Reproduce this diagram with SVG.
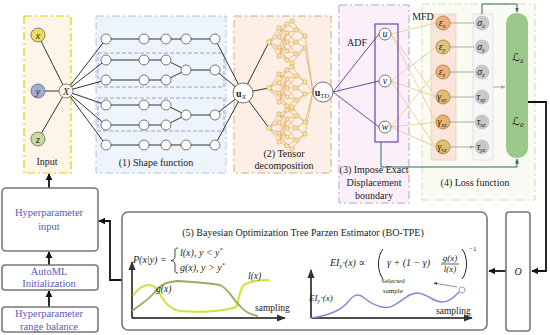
<svg xmlns="http://www.w3.org/2000/svg" xmlns:xlink="http://www.w3.org/1999/xlink" width="550" height="335" viewBox="0 0 550 335">
<style>
text{font-family:"Liberation Serif","Times New Roman","DejaVu Serif",serif;fill:#222}
.lbl{font-size:10px;text-anchor:middle}
.it{font-style:italic}
.blue{fill:#5a5ab8;font-size:10.5px;text-anchor:middle}
.sn{fill:#fff;stroke:#555;stroke-width:0.8}
.sl{stroke:#333;stroke-width:1;fill:none}
.tl{stroke:#d4a050;stroke-width:0.6;fill:none}
.tn{fill:#f6e6a0;stroke:#c8963c;stroke-width:0.5}
.cross{stroke:#e6d6a0;stroke-width:1;fill:none}
.strain{stroke:#a08040;stroke-width:0.8}
.stress{fill:#c8c8c8;stroke:#bbb;stroke-width:0.6}
.garr{stroke:#aaa;stroke-width:1;fill:none}
.box{fill:#fff;stroke:#777;stroke-width:1.6}
.blk{stroke:#111;stroke-width:1.8;fill:none}
.math{font-family:"DejaVu Sans","Noto Sans",sans-serif;font-style:italic}
</style>
<defs>
<marker id="ab" viewBox="0 0 10 10" refX="9" refY="5" markerWidth="4" markerHeight="4" orient="auto"><path d="M0,0L10,5L0,10z" fill="#111"/></marker>
<marker id="ag" viewBox="0 0 10 10" refX="9" refY="5" markerWidth="5" markerHeight="5" orient="auto"><path d="M0,1L10,5L0,9z" fill="#aaa"/></marker>
<marker id="agr" viewBox="0 0 10 10" refX="9" refY="5" markerWidth="5" markerHeight="5" orient="auto"><path d="M0,1L10,5L0,9z" fill="#2f7050"/></marker>
<marker id="ak" viewBox="0 0 10 10" refX="9" refY="5" markerWidth="6" markerHeight="6" orient="auto"><path d="M0,1L10,5L0,9z" fill="#333"/></marker>
<g id="tg">
<path class="tl" d="M269,0L279,-14M269,0L279,-5M269,0L279,5M269,0L279,14M269,0L292,-21M269,0L292,21M296,-12L305,-6M296,0L305,-6M296,0L305,6M296,12L305,6M292,-21L305,-6M292,21L305,6"/>
<path d="M279,-14L287,-18M279,-14L287,-9M279,-14L287,0M279,-5L287,-18M279,-5L287,0M279,-5L287,9M279,5L287,-9M279,5L287,9M279,5L287,18M279,14L287,0M279,14L287,18M279,14L287,-9M287,-18L296,-12M287,-9L296,-12M287,-9L296,0M287,0L296,0M287,9L296,0M287,9L296,12M287,18L296,12M287,0L296,-12M287,0L296,12" stroke="#e8862e" stroke-width="0.5" fill="none"/>
<circle class="tn" cx="269" cy="0" r="2.4"/>
<circle class="tn" cx="279" cy="-14" r="2.2"/><circle class="tn" cx="279" cy="-5" r="2.2"/><circle class="tn" cx="279" cy="5" r="2.2"/><circle class="tn" cx="279" cy="14" r="2.2"/>
<circle class="tn" cx="287" cy="-18" r="2.2"/><circle class="tn" cx="287" cy="-9" r="2.2"/><circle class="tn" cx="287" cy="0" r="2.2"/><circle class="tn" cx="287" cy="9" r="2.2"/><circle class="tn" cx="287" cy="18" r="2.2"/>
<circle class="tn" cx="296" cy="-12" r="2.2"/><circle class="tn" cx="296" cy="0" r="2.2"/><circle class="tn" cx="296" cy="12" r="2.2"/>
<circle class="tn" cx="305" cy="-6" r="2.2"/><circle class="tn" cx="305" cy="6" r="2.2"/>
<circle class="tn" cx="292" cy="-21" r="2.2"/><circle class="tn" cx="292" cy="21" r="2.2"/>
</g>
</defs>

<!-- region backgrounds -->
<g id="input-region">
<rect x="24" y="16" width="47" height="157" fill="#fdf5e8" stroke="#d4d400" stroke-width="1.2" stroke-dasharray="8,3,2,3"/>
<text class="lbl" x="47" y="165">Input</text>
</g>
<g id="shape-region">
<rect x="96" y="16" width="130" height="157" fill="#eef4fc" stroke="#b0c4e4" stroke-width="1" stroke-dasharray="8,3,2,3"/>
<rect x="98" y="53" width="126" height="34" fill="none" stroke="#8890c8" stroke-width="0.8" stroke-dasharray="4,2"/>
<rect x="98" y="98" width="126" height="33" fill="none" stroke="#8890c8" stroke-width="0.8" stroke-dasharray="4,2"/>
<text class="lbl" x="156" y="166">(1) Shape function</text>
</g>
<g id="tensor-region">
<rect x="234" y="16" width="97" height="157" fill="#fdeee6" stroke="#c8b07c" stroke-width="1" stroke-dasharray="8,3,2,3"/>
<text class="lbl" x="284" y="157">(2) Tensor</text>
<text class="lbl" x="284" y="169">decomposition</text>
</g>
<g id="adf-region">
<rect x="339" y="5" width="70" height="198" fill="#fbf0fa" stroke="#b8a0d0" stroke-width="1" stroke-dasharray="8,3,2,3"/>
<text class="lbl" x="374" y="173">(3) Impose Exact</text>
<text class="lbl" x="374" y="186">Displacement</text>
<text class="lbl" x="374" y="199">boundary</text>
<text class="lbl" x="357" y="46">ADF</text>
</g>
<g id="loss-region">
<rect x="422" y="4" width="113" height="196" fill="#fafbf4" stroke="#d4dca4" stroke-width="1" stroke-dasharray="8,3,2,3"/>
<rect x="431" y="14" width="25" height="146" fill="#fbe4dc" stroke="#e8d8a8" stroke-width="0.8"/>
<rect x="473" y="14" width="20" height="146" fill="#f6f6f6" stroke="#ddd" stroke-width="0.8"/>
<text class="lbl" x="475" y="186">(4) Loss function</text>
<text class="lbl" x="423" y="20">MFD</text>
</g>

<!-- connectors -->
<g id="connectors">
<path class="sl" d="M38,35L66,91M38,91L66,91M38,139L66,91M66,91L106,39M66,91L106,60M66,91L106,80M66,91L106,105M66,91L106,125M66,91L106,145"/>
<path class="sl" d="M106,39H215M106,145H215M106,60H166L186,70L166,80H106M186,70H215M106,105H166L186,115L166,125H106M186,115H215"/>
<path class="sl" d="M215,39L243,93M215,70L243,93M215,115L243,93M215,145L243,93M243,93L269,42M243,93L269,88M243,93L269,128"/>
<path class="tl" d="M305,36L313,92M305,48L313,92M305,82L313,92M305,94L313,92M305,122L313,92M305,134L313,92"/>
<path d="M333,92L379,34M333,92L379,81M333,92L379,127" stroke="#6a48a8" stroke-width="1" fill="none"/>
<path class="cross" d="M391,34L436,23M391,34L436,97M391,34L436,122M391,81L436,47M391,81L436,97M391,81L436,147M391,127L436,72M391,127L436,122M391,127L436,147"/>
<path class="garr" marker-end="url(#ag)" d="M450,23H474M450,47H474M450,72H474M450,97H474M450,122H474M450,147H474"/>
<path class="garr" marker-end="url(#ag)" d="M493,87H505"/>
<path d="M482,14V4H517V12" stroke="#2f7050" stroke-width="1" fill="none" marker-end="url(#agr)"/>
<path d="M381,142V167H517V159" stroke="#2f7050" stroke-width="1" fill="none" marker-end="url(#agr)"/>
<path class="blk" d="M528,102H546V271H532" marker-end="url(#ab)"/>
<path class="blk" d="M506,271H489" marker-end="url(#ab)"/>
<path class="blk" d="M122,280H110V221H99" marker-end="url(#ab)"/>
<path class="blk" d="M49,265V252" marker-end="url(#ab)"/>
<path class="blk" d="M49,307V291" marker-end="url(#ab)"/>
<path class="blk" d="M49,188V174" marker-end="url(#ab)"/>
</g>

<!-- input nodes -->
<g id="node-x"><circle cx="38" cy="35" r="7" fill="#f0dc64" stroke="#666" stroke-width="0.8"/><text class="lbl it" x="38" y="38.5">x</text></g>
<g id="node-y"><circle cx="38" cy="91" r="7" fill="#a4acdc" stroke="#666" stroke-width="0.8"/><text class="lbl it" x="38" y="94.5">y</text></g>
<g id="node-z"><circle cx="38" cy="139" r="7" fill="#c8d8a0" stroke="#666" stroke-width="0.8"/><text class="lbl it" x="38" y="142.5">z</text></g>
<g id="node-X"><circle cx="66" cy="91" r="7" fill="#fdf8f0" stroke="#666" stroke-width="0.8"/><text class="lbl it" x="66" y="94.5">X</text></g>

<!-- shape function nodes -->
<g id="shape-nodes">
<circle class="sn" cx="106" cy="39" r="5"/><circle class="sn" cx="144" cy="39" r="5"/><circle class="sn" cx="166" cy="39" r="5"/><circle class="sn" cx="186" cy="39" r="5"/><circle class="sn" cx="215" cy="39" r="5"/>
<circle class="sn" cx="106" cy="60" r="5"/><circle class="sn" cx="144" cy="60" r="5"/><circle class="sn" cx="166" cy="60" r="5"/>
<circle class="sn" cx="106" cy="80" r="5"/><circle class="sn" cx="144" cy="80" r="5"/><circle class="sn" cx="166" cy="80" r="5"/>
<circle class="sn" cx="186" cy="70" r="5"/><circle class="sn" cx="215" cy="70" r="5"/>
<circle class="sn" cx="106" cy="105" r="5"/><circle class="sn" cx="144" cy="105" r="5"/><circle class="sn" cx="166" cy="105" r="5"/>
<circle class="sn" cx="106" cy="125" r="5"/><circle class="sn" cx="144" cy="125" r="5"/><circle class="sn" cx="166" cy="125" r="5"/>
<circle class="sn" cx="186" cy="115" r="5"/><circle class="sn" cx="215" cy="115" r="5"/>
<circle class="sn" cx="106" cy="145" r="5"/><circle class="sn" cx="144" cy="145" r="5"/><circle class="sn" cx="166" cy="145" r="5"/><circle class="sn" cx="186" cy="145" r="5"/><circle class="sn" cx="215" cy="145" r="5"/>
</g>

<!-- tensor decomposition -->
<g id="tensor-net">
<use xlink:href="#tg" href="#tg" y="42"/>
<use xlink:href="#tg" href="#tg" y="88"/>
<use xlink:href="#tg" href="#tg" y="128"/>
</g>
<g id="node-uX"><circle cx="243" cy="93" r="10" fill="#fff" stroke="#555" stroke-width="0.8"/><text class="lbl" x="241" y="96.5"><tspan font-weight="bold">u</tspan><tspan class="it" font-size="7" dy="2">X</tspan></text></g>
<g id="node-uTD"><circle cx="323" cy="92" r="10" fill="#fff" stroke="#555" stroke-width="0.8"/><text class="lbl" x="322" y="95.5"><tspan font-weight="bold">u</tspan><tspan class="it" font-size="7" dy="2">TD</tspan></text></g>

<!-- ADF -->
<g id="adf-block">
<rect x="375" y="24" width="23" height="118" fill="none" stroke="#6a48a8" stroke-width="1.2"/>
<circle cx="385" cy="34" r="6" fill="#fff" stroke="#555" stroke-width="0.8"/><text class="lbl it" x="385" y="37">u</text>
<circle cx="385" cy="81" r="6" fill="#fff" stroke="#555" stroke-width="0.8"/><text class="lbl it" x="385" y="84">v</text>
<circle cx="385" cy="127" r="6" fill="#fff" stroke="#555" stroke-width="0.8"/><text class="lbl it" x="385" y="130">w</text>
</g>

<!-- strains -->
<g id="strains">
<circle class="strain" cx="443" cy="23" r="7" fill="#f2b07a"/><text class="lbl it" x="442" y="26">ε<tspan font-size="6" dy="2">x</tspan></text>
<circle class="strain" cx="443" cy="47" r="7" fill="#e0c478"/><text class="lbl it" x="442" y="50">ε<tspan font-size="6" dy="2">y</tspan></text>
<circle class="strain" cx="443" cy="72" r="7" fill="#f2b07a"/><text class="lbl it" x="442" y="75">ε<tspan font-size="6" dy="2">z</tspan></text>
<circle class="strain" cx="443" cy="97" r="7" fill="#e0c070"/><text class="lbl it" x="442" y="100">γ<tspan font-size="6" dy="2">xy</tspan></text>
<circle class="strain" cx="443" cy="122" r="7" fill="#eeb070"/><text class="lbl it" x="442" y="125">γ<tspan font-size="6" dy="2">xz</tspan></text>
<circle class="strain" cx="443" cy="147" r="7" fill="#e0c070"/><text class="lbl it" x="442" y="150">γ<tspan font-size="6" dy="2">yz</tspan></text>
</g>
<g id="stresses">
<circle class="stress" cx="482" cy="23" r="7"/><text class="lbl it" x="481" y="26">σ<tspan font-size="6" dy="2">x</tspan></text>
<circle class="stress" cx="482" cy="47" r="7"/><text class="lbl it" x="481" y="50">σ<tspan font-size="6" dy="2">y</tspan></text>
<circle class="stress" cx="482" cy="72" r="7"/><text class="lbl it" x="481" y="75">σ<tspan font-size="6" dy="2">z</tspan></text>
<circle class="stress" cx="482" cy="97" r="7"/><text class="lbl it" x="481" y="100">τ<tspan font-size="6" dy="2">xy</tspan></text>
<circle class="stress" cx="482" cy="122" r="7"/><text class="lbl it" x="481" y="125">τ<tspan font-size="6" dy="2">xz</tspan></text>
<circle class="stress" cx="482" cy="147" r="7"/><text class="lbl it" x="481" y="150">τ<tspan font-size="6" dy="2">yz</tspan></text>
</g>
<g id="loss-L">
<rect x="506" y="13" width="22" height="145" rx="10" fill="#9cc88c"/>
<text class="math" x="512" y="61" font-size="11">ℒ<tspan font-size="6.5" dy="2">s</tspan></text>
<text class="math" x="512" y="125" font-size="11">ℒ<tspan font-size="6.5" dy="2">e</tspan></text>
</g>

<!-- O box -->
<g id="node-O">
<rect class="box" x="506" y="212" width="24" height="119" rx="3"/>
<text class="lbl it" x="518" y="275" font-size="11">O</text>
</g>

<!-- left boxes -->
<g id="hp-input"><rect class="box" x="2" y="188" width="96" height="63" rx="4"/><text class="blue" x="49" y="216">Hyperparameter</text><text class="blue" x="49" y="230">input</text></g>
<g id="automl"><rect class="box" x="2" y="265" width="96" height="25" rx="3"/><text class="blue" x="49" y="275">AutoML</text><text class="blue" x="49" y="287">Initialization</text></g>
<g id="hp-range"><rect class="box" x="2" y="307" width="96" height="25" rx="3"/><text class="blue" x="49" y="317">Hyperparameter</text><text class="blue" x="49" y="330">range balance</text></g>

<!-- BO-TPE -->
<g id="bo-tpe">
<rect class="box" x="122" y="212" width="365" height="118" rx="6"/>
<text class="lbl" x="303" y="236" font-size="10.5">(5) Bayesian Optimization Tree Parzen Estimator (BO-TPE)</text>
<text class="it" x="133" y="263" font-size="10">P(x|y) =</text>
<path d="M178,248C174,248 175,251 175,255C175,259 174,260 171,260.5C174,261 175,262 175,266C175,270 174,273 178,273" stroke="#222" stroke-width="0.9" fill="none"/>
<text class="it" x="180" y="256" font-size="10">l(x), y &lt; y<tspan font-size="6" dy="-4">*</tspan></text>
<text class="it" x="180" y="271" font-size="10">g(x), y &gt; y<tspan font-size="6" dy="-4">*</tspan></text>
<path d="M132,318H285" stroke="#111" stroke-width="1.5" fill="none" marker-end="url(#ak)"/>
<path d="M132,318V262" stroke="#111" stroke-width="1.5" fill="none" marker-end="url(#ak)"/>
<path d="M133,296C140,285 150,282 156,288C162,296 165,308 180,311C200,313 225,311 236,307C240,300 238,290 245,284C252,281 262,280 269,280" stroke="#d4e03a" stroke-width="2" fill="none"/>
<path d="M132,311C140,305 148,300 154,293C160,285 165,282 178,281C195,282 210,283 220,285C230,290 233,300 240,306C245,312 252,315 258,316" stroke="#98ac58" stroke-width="1.8" fill="none"/>
<text class="it" x="248" y="279" font-size="9.5">l(x)</text>
<text class="it" x="156" y="292" font-size="9.5">g(x)</text>
<text x="255" y="311" font-size="9.5">sampling</text>

<text class="it" x="330" y="266" font-size="10">EI<tspan font-size="6.5" dy="2">y</tspan><tspan font-size="5" dy="-3">*</tspan><tspan dy="1">(x) ∝</tspan></text>
<path d="M383,249C377,256 377,272 383,279" stroke="#222" stroke-width="1" fill="none"/>
<text class="it" x="387" y="266" font-size="10">γ + (1 − γ)</text>
<text class="it" x="450" y="261" font-size="9" text-anchor="middle">g(x)</text>
<path d="M441,264H459" stroke="#222" stroke-width="0.7"/>
<text class="it" x="450" y="272" font-size="9" text-anchor="middle">l(x)</text>
<path d="M462,249C468,256 468,272 462,279" stroke="#222" stroke-width="1" fill="none"/>
<text x="469" y="251" font-size="7">−1</text>
<path d="M311,318V270" stroke="#111" stroke-width="1.5" fill="none" marker-end="url(#ak)"/>
<path d="M311,318H472" stroke="#111" stroke-width="1.5" fill="none" marker-end="url(#ak)"/>
<path d="M311,318C325,316 340,312 348,302C353,295 358,293 363,297C370,303 380,309 390,307C400,304 408,292 418,293C428,294 433,302 442,302C450,302 455,296 459,292" stroke="#8888d8" stroke-width="1.5" fill="none"/>
<circle cx="462" cy="290" r="3" fill="none" stroke="#8888d8" stroke-width="0.8"/>
<path d="M457,287L434,283" stroke="#444" stroke-width="0.6" fill="none" marker-end="url(#ak)"/>
<text x="381" y="283" font-size="7">Selected</text>
<text x="383" y="293" font-size="7">sample</text>
<text class="it" x="309" y="301" font-size="9">EI<tspan font-size="6" dy="2">y</tspan><tspan font-size="5" dy="-3">*</tspan><tspan dy="1">(x)</tspan></text>
<text x="436" y="314" font-size="9.5">sampling</text>
</g>
</svg>
